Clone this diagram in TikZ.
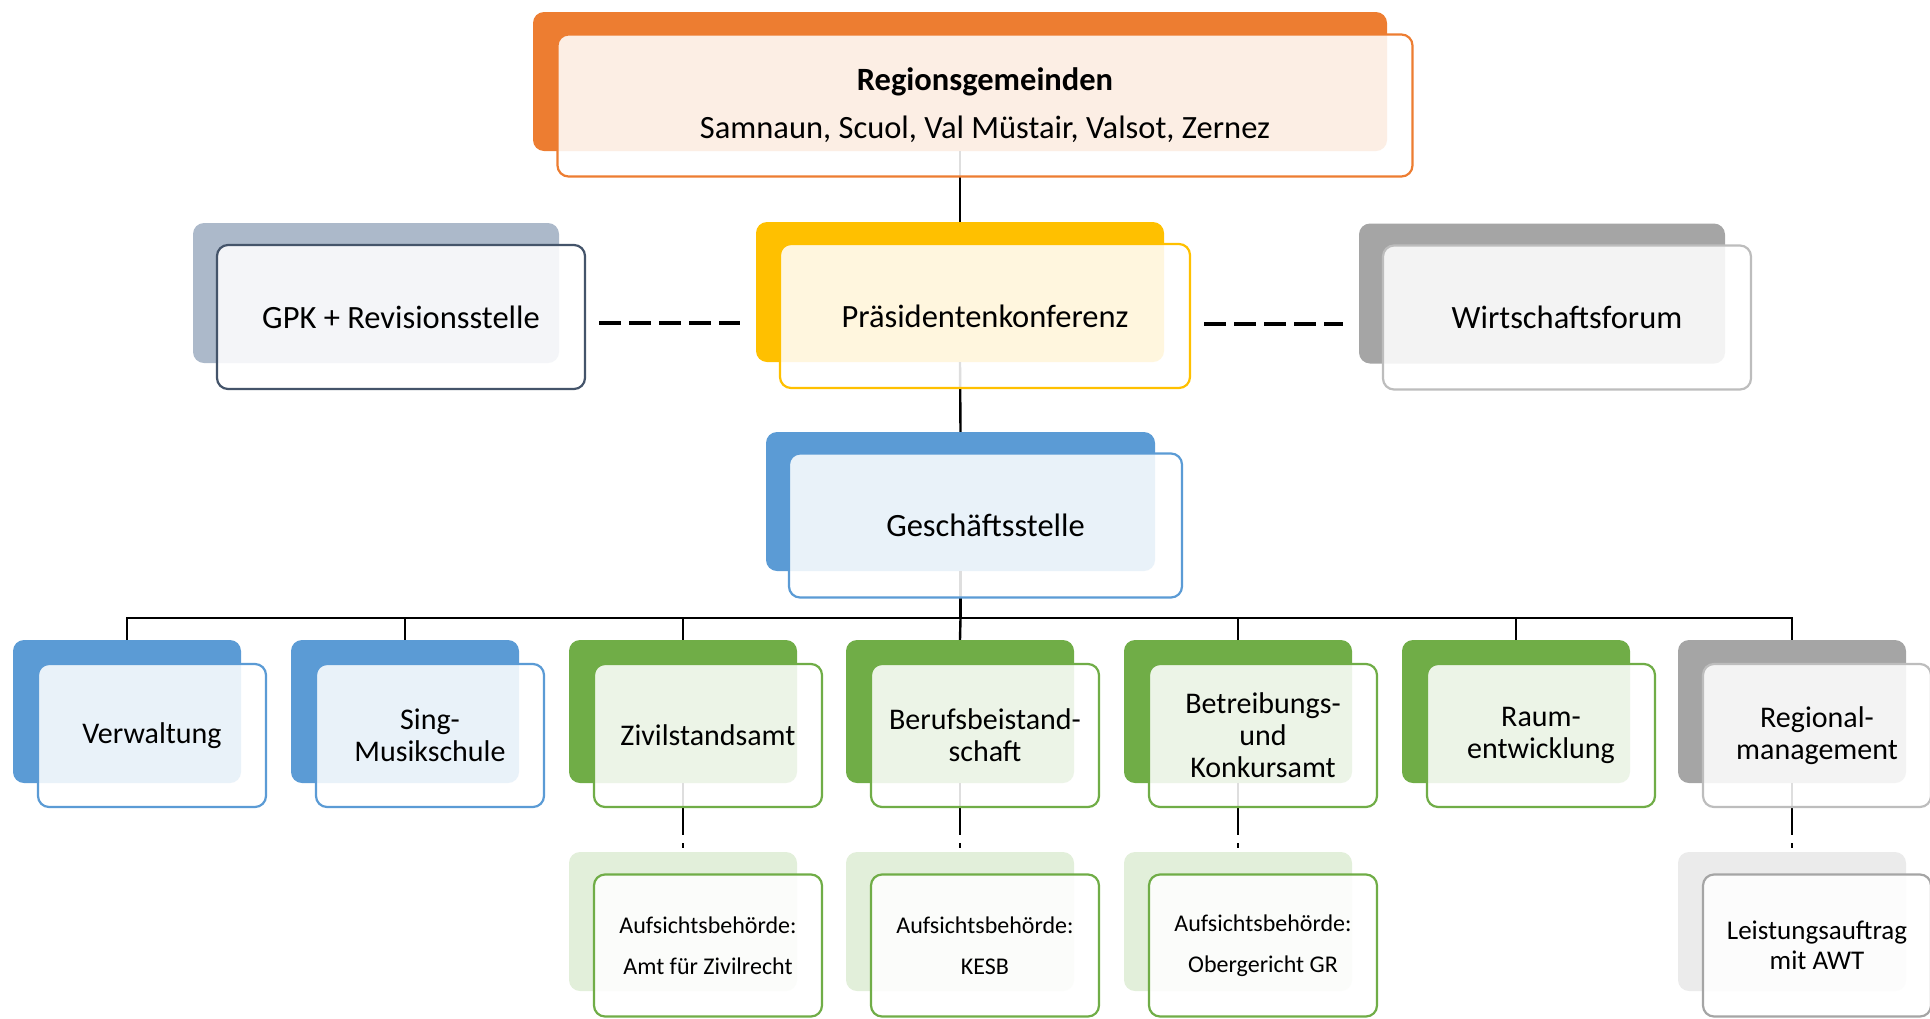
\documentclass[tikz,border=0pt]{standalone}
\usepackage{fontspec}
\setmainfont{Carlito}
\usetikzlibrary{calc,positioning}
\definecolor{orga}{HTML}{ED7D31}
\definecolor{gold}{HTML}{FFC000}
\definecolor{blau}{HTML}{5B9BD5}
\definecolor{gruen}{HTML}{70AD47}
\definecolor{grau}{HTML}{A5A5A5}
\definecolor{grauhell}{HTML}{BDBDBD}
\definecolor{schiefer}{HTML}{ACB9CA}
\definecolor{schieferdk}{HTML}{44546A}
\definecolor{gruenhell}{HTML}{E2EFDA}
\definecolor{grauweiss}{HTML}{EBEBEB}

\begin{document}
\begin{tikzpicture}[x=1pt,y=-1pt,
  shadowbox/.style={fill=#1,rounded corners=11pt,minimum width=228pt,minimum height=143pt,inner sep=0pt},
  facebox/.style={draw=#1,fill=white,fill opacity=0.87,text opacity=1,rounded corners=11pt,line width=2.2pt,
    minimum width=228pt,minimum height=143pt,inner sep=0pt,align=center,font=\fontsize{30}{32}\selectfont},
  bigface/.style={facebox=#1,minimum height=144pt,font=\fontsize{32.5}{36}\selectfont},
  link/.style={line width=2.4pt,black},
  hlink/.style={line width=3.6pt,black,dash pattern=on 22pt off 8pt,shorten <=13pt,shorten >=16pt},
  vlink/.style={line width=2.4pt,black,dash pattern=on 52pt off 8pt on 5pt off 20pt}]
\useasboundingbox (0,0) rectangle (1930,1018);

  \node[shadowbox=orga,minimum width=854pt,minimum height=139pt] at (960,81.5) (reg1) {};
  \node[shadowbox=schiefer,minimum width=366pt,minimum height=140pt] at (376,293) (gpk1) {};
    \node[shadowbox=gold,minimum width=408pt,minimum height=140pt] at (960,292) (pk1) {};
  \node[shadowbox=grau,minimum width=366pt,minimum height=140pt] at (1542,293.5) (wf1) {};
  \node[shadowbox=blau,minimum width=389pt,minimum height=139pt] at (960.5,501.5) (gs1) {};
  \node[shadowbox=blau] at (127,711.5) (v1) {};
  \node[shadowbox=blau] at (405,711.5) (sm1) {};
  \node[shadowbox=gruen] at (683,711.5) (za1) {};
  \node[shadowbox=gruen] at (960,711.5) (bb1) {};
  \node[shadowbox=gruen] at (1238,711.5) (ka1) {};
  \node[shadowbox=gruen] at (1516,711.5) (re1) {};
  \node[shadowbox=grau] at (1792,711.5) (rm1) {};
  \node[shadowbox=gruenhell,minimum height=139pt] at (683,921.5) (az1) {};
  \node[shadowbox=gruenhell,minimum height=139pt] at (960,921.5) (kb1) {};
  \node[shadowbox=gruenhell,minimum height=139pt] at (1238,921.5) (og1) {};
  \node[shadowbox=grauweiss,minimum height=139pt] at (1792,921.5) (la1) {};

  \coordinate (bus) at ($(gs1.south) + (0,47)$);
  \draw[link] (reg1.south) -- (pk1.north);
  \draw[link] (pk1.south) -- (gs1.north);
  \draw[link] (gs1.south) -- (bus);
  \draw[link] (bus) -| (v1.north);
  \draw[link] (bus) -| (sm1.north);
  \draw[link] (bus) -| (za1.north);
  \draw[link] (bus) -- (bb1.north);
  \draw[link] (bus) -| (ka1.north);
  \draw[link] (bus) -| (re1.north);
  \draw[link] (bus) -| (rm1.north);
  \draw[vlink] (za1.south) -- (az1.north);
  \draw[vlink] (bb1.south) -- (kb1.north);
  \draw[vlink] (ka1.south) -- (og1.north);
  \draw[vlink] (rm1.south) -- (la1.north);

  \node[bigface=orga,minimum width=855pt,minimum height=142pt,font=\fontsize{32.5}{48}\selectfont] at ($(reg1) + (25,24)$) (reg2)
    {\textbf{Regionsgemeinden}\\Samnaun, Scuol, Val Müstair, Valsot, Zernez};
  \node[bigface=schieferdk,minimum width=368pt] at ($(gpk1) + (25,24)$) (gpk2) {GPK + Revisionsstelle};
  \node[bigface=gold,minimum width=410pt] at ($(pk1) + (25,24)$) (pk2) {Präsidentenkonferenz};
  \node[bigface=grauhell,minimum width=368pt] at ($(wf1) + (25,24)$) (wf2) {Wirtschaftsforum};
  \node[bigface=blau,minimum width=393pt] at ($(gs1) + (25,24)$) (gs2) {Geschäftsstelle};
  \node[facebox=blau] at ($(v1) + (25,24)$) (v2) {Verwaltung};
  \node[facebox=blau] at ($(sm1) + (25,24)$) (sm2) {Sing-\\Musikschule};
  \node[facebox=gruen] at ($(za1) + (25,24)$) (za2) {Zivilstandsamt};
  \node[facebox=gruen] at ($(bb1) + (25,24)$) (bb2) {Berufsbeistand-\\schaft};
  \node[facebox=gruen] at ($(ka1) + (25,24)$) (ka2) {Betreibungs-\\und\\Konkursamt};
  \node[facebox=gruen] at ($(re1) + (25,24)$) (re2) {Raum-\\entwicklung};
  \node[facebox=grauhell] at ($(rm1) + (25,24)$) (rm2) {Regional-\\management};
  \node[facebox=gruen,minimum height=142pt,font=\fontsize{24}{41}\selectfont] at ($(az1) + (25,24)$) (az2) {Aufsichtsbehörde:\\Amt für Zivilrecht};
  \node[facebox=gruen,minimum height=142pt,font=\fontsize{24}{41}\selectfont] at ($(kb1) + (25,24)$) (kb2) {Aufsichtsbehörde:\\KESB};
  \node[facebox=gruen,minimum height=142pt,font=\fontsize{24}{41}\selectfont] at ($(og1) + (25,24)$) (og2) {Aufsichtsbehörde:\\Obergericht GR};
  \node[facebox=grau,minimum height=142pt,font=\fontsize{27}{30}\selectfont] at ($(la1) + (25,24)$) (la2) {Leistungsauftrag\\mit AWT};

  \draw[hlink] ([yshift=-6pt]gpk2.east) -- ([yshift=-6pt]pk1.west |- gpk2.east);
  \draw[hlink] ([yshift=-8pt]pk2.east) -- ([yshift=-8pt]wf1.west |- pk2.east);
\end{tikzpicture}
\end{document}
